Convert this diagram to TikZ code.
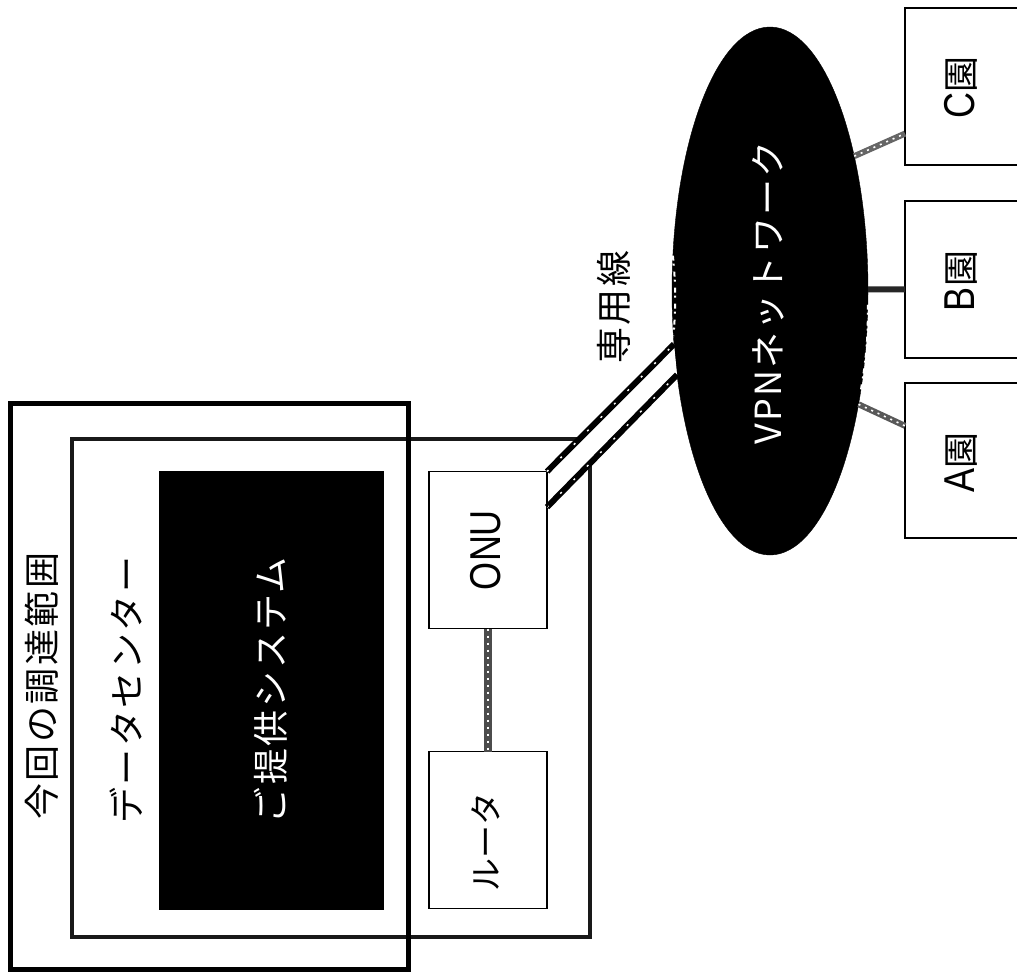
\documentclass[tikz,border=0pt]{standalone}
\usepackage{fontspec}
\newfontfamily\jp{Noto Sans CJK JP}
\newfontfamily\jps[LetterSpace=7]{Noto Sans CJK JP}
\newfontfamily\lat{Liberation Sans}
\usetikzlibrary{shapes.geometric}
\newcommand{\tall}[1]{\scalebox{1}[1.2]{#1}}
\tikzset{
  box/.style={draw=black,line width=1.6pt,fill=white,rectangle,inner sep=0pt,outer sep=0pt},
  blackbox/.style={draw=black,fill=black,rectangle,inner sep=0pt,outer sep=0pt,line width=0pt},
  frameline/.style={draw=black!90,line width=4pt},
  outerline/.style={draw=black,line width=5pt},
  rotlabel/.style={rotate=90,inner sep=0pt,font=\jps\fontsize{36}{36}\selectfont},
  boxlabel/.style={rotate=90,inner sep=0pt,font=\lat\fontsize{36}{36}\selectfont},
  greylink/.style={draw=black!70,line width=8pt},
  speck/.style={draw=white,line width=1.6pt,dash pattern=on 2pt off 5pt},
  sparse/.style={draw=white,line width=1.5pt,dash pattern=on 2pt off 17pt},
  duct/.style={draw=black,line width=6pt},
  edgespeck/.style={draw=white,line width=2pt,dash pattern=on 5pt off 3pt on 2pt off 6pt},
}
\begin{document}
\begin{tikzpicture}[x=1pt,y=-1pt]
\useasboundingbox[fill=white] (0,0) rectangle (1017,972);
% data centre frame
\node[frameline,rectangle,inner sep=0pt,minimum width=518pt,minimum height=498pt] (dc) at (331,688) {};
% black system block
\node[blackbox,minimum width=224pt,minimum height=438pt,text=white] (sys) at (271,690.5) {};
\node[rotlabel,text=white] (syst) at (271,690) {ご提供システム};
% ONU / router
\node[box,minimum width=118pt,minimum height=157pt] (onu) at (488,550) {};
\node[box,minimum width=118pt,minimum height=157pt] (rt) at (488,830) {};
\node[boxlabel] (onut) at (486,550) {\tall{ONU}};
\node[rotlabel,font=\jp\fontsize{33}{33}\selectfont] (rtt) at (486,842) {ルータ};
\draw[greylink] (onu) -- (rt);
\draw[speck] (onu) -- (rt);
% VPN cloud
\node[ellipse,fill=black,draw=black,minimum width=196pt,minimum height=528pt,inner sep=0pt,outer sep=0pt] (vpn) at (770,291) {};
% dedicated line: white band with two edges, hides the frame
\fill[white] (onu.north east) -- (vpn.209) -- (vpn.222.8) -- (onu.36.7) -- cycle;
\draw[duct] (onu.north east) -- (vpn.209);
\draw[duct] (onu.36.7) -- (vpn.222.8);
\draw[sparse] (onu.north east) -- (vpn.209);
\draw[sparse] (onu.36.7) -- (vpn.222.8);
\draw[box,fill=none] (onu.north east) -- (onu.36.7);
\node[rotlabel] (sen) at (614,307) {専用線};
\node[rotlabel,text=white] (vpnt) at (768,293) {\jp\addfontfeature{LetterSpace=6}VPNネットワーク};
% sites
\node[box,minimum width=125pt,minimum height=157pt] (c) at (967.5,86.5) {};
\node[box,minimum width=125pt,minimum height=157pt] (b) at (967.5,279.5) {};
\node[box,minimum width=125pt,minimum height=155pt] (a) at (967.5,460.5) {};
\node[boxlabel] (ct) at (961,87) {\tall{C}\jp 園};
\node[boxlabel] (bt) at (961,281) {\tall{B}\jp 園};
\node[boxlabel] (at) at (961,462) {\tall{A}\jp 園};
\draw[draw=black!60,line width=6pt] (vpn.58.4) -- (c.217);
\draw[speck] (vpn.58.4) -- (c.217);
\draw[draw=black!85,line width=6pt] (vpn.1) -- (b.189);
\draw[draw=black!65,line width=6pt] (vpn.-52.9) -- (a.151);
\draw[speck] (vpn.-52.9) -- (a.151);
% speckled edges of the cloud
\draw[edgespeck] (vpn.160) to[bend left=5] (vpn.205);
\draw[edgespeck] (vpn.-8) to[bend left=5] (vpn.-48);
% procurement scope frame (on top)
\node[outerline,rectangle,inner sep=0pt,minimum width=398pt,minimum height=566pt] (scope) at (209,686) {};
\node[rotlabel] (scopet) at (42,686) {今回の調達範囲};
\node[rotlabel] (dct) at (126,690) {データセンター};
\end{tikzpicture}
\end{document}
